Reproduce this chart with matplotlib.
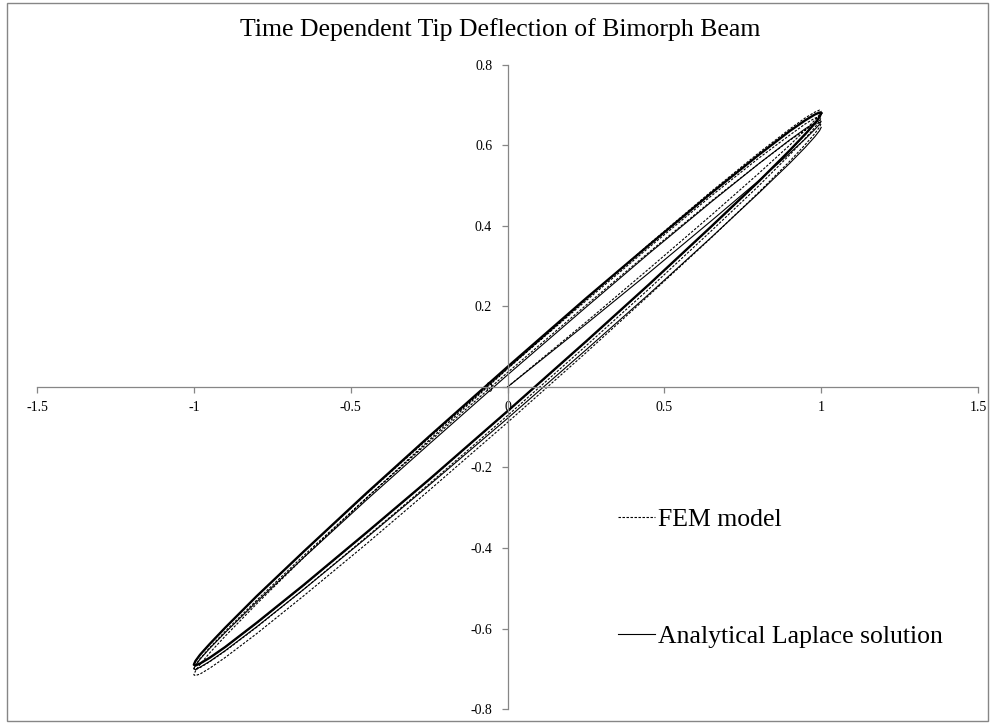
import matplotlib
matplotlib.use('Agg')
import matplotlib.pyplot as plt
from matplotlib.lines import Line2D
from matplotlib.patches import Rectangle

plt.rcParams['font.family'] = ['Liberation Serif', 'DejaVu Serif']

# voltage (x) sample points along each half cycle
x_fall = [1, 0.995, 0.98, 0.95, 0.9, 0.8, 0.65, 0.45, 0.25, 0,
          -0.25, -0.45, -0.65, -0.8, -0.9, -0.95, -0.98, -0.995, -1]
x_rise = x_fall[::-1]
x_start = [0, 0.25, 0.45, 0.65, 0.8, 0.9, 0.95, 0.98, 0.995, 1]

# analytical Laplace solution: start-up part
lap_start = [0, 0.156, 0.283, 0.413, 0.512, 0.581, 0.617, 0.640, 0.653, 0.660]
lap_fall_1 = [0.660, 0.662, 0.656, 0.642, 0.614, 0.554, 0.460, 0.331, 0.198, 0.030,
              -0.142, -0.281, -0.424, -0.534, -0.610, -0.650, -0.676, -0.692, -0.700]
lap_rise_1 = [-0.700, -0.702, -0.696, -0.682, -0.655, -0.596, -0.503, -0.375, -0.244, -0.078,
              0.092, 0.230, 0.372, 0.481, 0.556, 0.596, 0.622, 0.637, 0.645]
# analytical Laplace solution: settled loop
lap_fall_ss = [0.680, 0.682, 0.677, 0.663, 0.636, 0.576, 0.482, 0.352, 0.220, 0.050,
               -0.123, -0.264, -0.409, -0.520, -0.598, -0.639, -0.665, -0.681, -0.690]
lap_rise_ss = [-0.690, -0.692, -0.687, -0.673, -0.646, -0.586, -0.492, -0.362, -0.230, -0.060,
               0.113, 0.254, 0.399, 0.510, 0.588, 0.629, 0.655, 0.671, 0.680]

# FEM model tip deflection
fem_start = [0, 0.161, 0.293, 0.427, 0.530, 0.601, 0.639, 0.663, 0.677, 0.685]
fem_fall_1 = [0.685, 0.688, 0.683, 0.669, 0.641, 0.581, 0.486, 0.354, 0.218, 0.045,
              -0.132, -0.276, -0.424, -0.539, -0.619, -0.661, -0.689, -0.706, -0.715]
fem_rise_1 = [-0.715, -0.717, -0.713, -0.699, -0.672, -0.613, -0.519, -0.390, -0.257, -0.088,
              0.085, 0.227, 0.371, 0.483, 0.561, 0.603, 0.630, 0.646, 0.655]
fem_fall_2 = [0.655, 0.657, 0.653, 0.639, 0.613, 0.554, 0.462, 0.334, 0.203, 0.036,
              -0.136, -0.276, -0.419, -0.530, -0.607, -0.648, -0.675, -0.691, -0.700]
fem_rise_2 = [-0.700, -0.702, -0.697, -0.683, -0.656, -0.597, -0.503, -0.373, -0.241, -0.071,
              0.102, 0.243, 0.388, 0.499, 0.577, 0.618, 0.645, 0.661, 0.670]
fem_fall_3 = [0.670, 0.672, 0.668, 0.654, 0.626, 0.568, 0.475, 0.346, 0.214, 0.046,
              -0.126, -0.266, -0.409, -0.520, -0.598, -0.639, -0.665, -0.681, -0.690]
fem_rise_3 = [-0.690, -0.692, -0.687, -0.673, -0.646, -0.587, -0.493, -0.363, -0.231, -0.061,
              0.112, 0.253, 0.398, 0.509, 0.587, 0.628, 0.655, 0.671, 0.680]

x_ticks = [-1.5, -1, -0.5, 0, 0.5, 1, 1.5]
x_labels = ['-1.5', '-1', '-0.5', '0', '0.5', '1', '1.5']
y_ticks = [-0.8, -0.6, -0.4, -0.2, 0, 0.2, 0.4, 0.6, 0.8]
y_labels = ['-0.8', '-0.6', '-0.4', '-0.2', '0', '0.2', '0.4', '0.6', '0.8']

W, H = 990, 723
fig = plt.figure(figsize=(W / 100, H / 100), dpi=100)
ax = fig.add_axes([37 / W, 14 / H, 941 / W, 644 / H])

axis_grey = '#868686'
dash = (0, (2.2, 1.4))

lap_x = x_start + x_fall + x_rise
lap_y = lap_start + lap_fall_1 + lap_rise_1
ax.plot(lap_x, lap_y, color='black', lw=0.8)
ax.plot(x_fall + x_rise, lap_fall_ss + lap_rise_ss, color='black', lw=1.7)

fem_x = x_start + (x_fall + x_rise) * 3
fem_y = fem_start + fem_fall_1 + fem_rise_1 + fem_fall_2 + fem_rise_2 + fem_fall_3 + fem_rise_3
ax.plot(fem_x, fem_y, color='black', lw=0.8, linestyle=dash)

ax.set_xlim(-1.5, 1.5)
ax.set_ylim(-0.8, 0.8)
ax.spines['left'].set_position(('data', 0))
ax.spines['bottom'].set_position(('data', 0))
ax.spines['top'].set_visible(False)
ax.spines['right'].set_visible(False)
for s in ('left', 'bottom'):
    ax.spines[s].set_color(axis_grey)
    ax.spines[s].set_linewidth(0.9)
ax.set_xticks(x_ticks)
ax.set_xticklabels(x_labels)
ax.set_yticks(y_ticks)
ax.set_yticklabels(y_labels)
ax.tick_params(axis='x', direction='out', length=4, width=0.9, color=axis_grey, pad=6, labelsize=10)
ax.tick_params(axis='y', direction='out', length=4, width=0.9, color=axis_grey, pad=7, labelsize=10)
ax.patch.set_alpha(0)

fig.text(500 / W, 1 - 30 / H, 'Time Dependent Tip Deflection of Bimorph Beam',
         ha='center', va='center', fontsize=18.5)

handles = [Line2D([], [], color='black', lw=0.8, linestyle=dash),
           Line2D([], [], color='black', lw=0.8)]
fig.legend(handles, ['FEM model', 'Analytical Laplace solution'],
           loc='center left', bbox_to_anchor=(618 / W, 1 - 578 / H),
           frameon=False, fontsize=18.5, handlelength=1.45, handletextpad=0.12,
           labelspacing=3.65, borderpad=0, borderaxespad=0)

fig.patches.append(Rectangle((7 / W, 2 / H), 981 / W, 718 / H, transform=fig.transFigure,
                             fill=False, edgecolor=axis_grey, lw=1))

fig.savefig('out.png', dpi=100)
